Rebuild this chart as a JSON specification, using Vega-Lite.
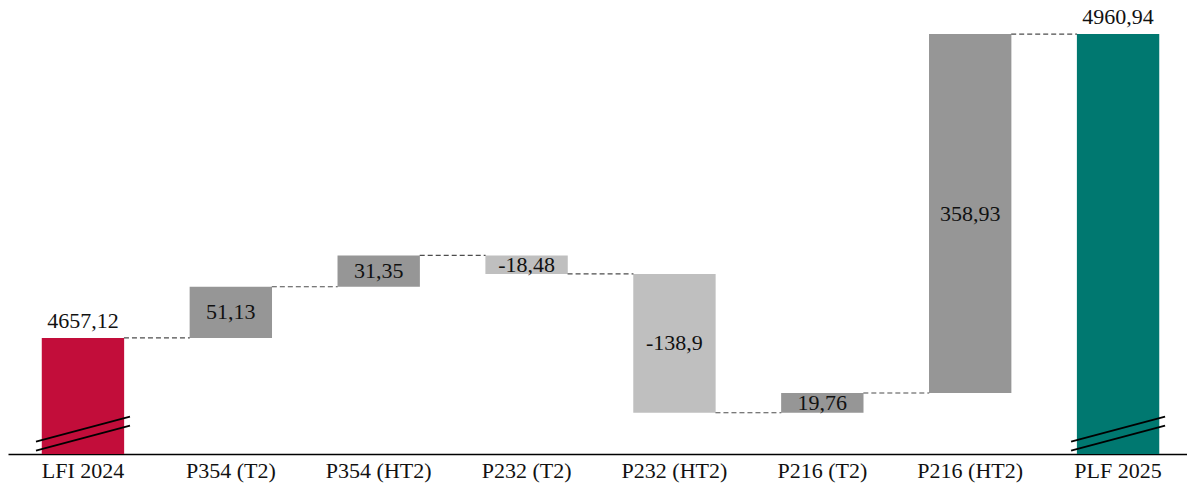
{
  "$schema": "https://vega.github.io/schema/vega-lite/v6.json",
  "width": 1179,
  "height": 444,
  "autosize": {"type": "none"},
  "padding": {"left": 8, "top": 10, "right": 0, "bottom": 32},
  "config": {
    "view": {"stroke": null},
    "font": "Liberation Serif",
    "text": {"font": "Liberation Serif"},
    "locale": {"number": {"decimal": ",", "thousands": ".", "grouping": [3], "currency": ["", ""], "minus": "-"}}
  },
  "data": {
    "values": [
      {"step": "LFI 2024", "kind": "start", "amount": 4657.12},
      {"step": "P354 (T2)", "kind": "up", "amount": 51.13},
      {"step": "P354 (HT2)", "kind": "up", "amount": 31.35},
      {"step": "P232 (T2)", "kind": "down", "amount": -18.48},
      {"step": "P232 (HT2)", "kind": "down", "amount": -138.9},
      {"step": "P216 (T2)", "kind": "up", "amount": 19.76},
      {"step": "P216 (HT2)", "kind": "up", "amount": 358.93},
      {"step": "PLF 2025", "kind": "end", "amount": 4960.94}
    ]
  },
  "transform": [
    {"calculate": "datum.kind === 'end' ? 0 : datum.amount", "as": "contrib"},
    {"window": [{"op": "sum", "field": "contrib", "as": "total"}, {"op": "lead", "field": "step", "as": "next"}], "frame": [null, 0]},
    {"calculate": "datum.total - datum.contrib", "as": "base"},
    {"calculate": "(datum.total + datum.base) / 2", "as": "mid"}
  ],
  "encoding": {
    "x": {
      "field": "step",
      "type": "nominal",
      "scale": {
        "domain": ["LFI 2024", "P354 (T2)", "P354 (HT2)", "P232 (T2)", "P232 (HT2)", "P216 (T2)", "P216 (HT2)", "PLF 2025"],
        "paddingInner": 0.443,
        "paddingOuter": 0.208,
        "align": 0.549
      },
      "axis": {
        "title": null,
        "labelAngle": 0,
        "ticks": false,
        "domainColor": "#000000",
        "domainWidth": 1.5,
        "labelFont": "Liberation Serif",
        "labelFontSize": 22,
        "labelColor": "#111111",
        "labelPadding": 6
      }
    }
  },
  "layer": [
    {
      "transform": [{"filter": "datum.kind === 'start' || datum.kind === 'end'"}],
      "mark": {"type": "bar", "clip": true},
      "encoding": {
        "y": {"field": "amount", "type": "quantitative", "scale": {"domain": [4541, 4985], "zero": false, "nice": false}, "axis": null},
        "color": {"field": "kind", "type": "nominal", "scale": {"domain": ["start", "end", "up", "down"], "range": ["#C20D3A", "#007870", "#969696", "#BFBFBF"]}, "legend": null}
      }
    },
    {
      "transform": [{"filter": "datum.kind === 'up' || datum.kind === 'down'"}],
      "mark": {"type": "bar"},
      "encoding": {
        "y": {"field": "base", "type": "quantitative"},
        "y2": {"field": "total"},
        "color": {"field": "kind", "type": "nominal"}
      }
    },
    {
      "transform": [{"filter": "datum.next != null"}],
      "mark": {"type": "rule", "strokeDash": [5, 3], "color": "#4d4d4d", "strokeWidth": 1.1, "xOffset": 41, "x2Offset": -41},
      "encoding": {
        "x2": {"field": "next"},
        "y": {"field": "total", "type": "quantitative"}
      }
    },
    {
      "transform": [{"filter": "datum.kind === 'start' || datum.kind === 'end'"}],
      "mark": {"type": "rule", "color": "#000000", "strokeWidth": 1.8, "xOffset": -47, "x2Offset": 47},
      "encoding": {
        "x2": {"field": "step"},
        "y": {"datum": 4553.3},
        "y2": {"datum": 4578.3}
      }
    },
    {
      "transform": [{"filter": "datum.kind === 'start' || datum.kind === 'end'"}],
      "mark": {"type": "rule", "color": "#000000", "strokeWidth": 1.8, "xOffset": -47, "x2Offset": 47},
      "encoding": {
        "x2": {"field": "step"},
        "y": {"datum": 4544.3},
        "y2": {"datum": 4569.3}
      }
    },
    {
      "transform": [{"filter": "datum.kind === 'start' || datum.kind === 'end'"}],
      "mark": {"type": "text", "font": "Liberation Serif", "baseline": "alphabetic", "dy": -10, "fontSize": 22, "color": "#111111"},
      "encoding": {
        "y": {"field": "amount", "type": "quantitative"},
        "text": {"field": "amount", "type": "quantitative", "format": ".2~f"}
      }
    },
    {
      "transform": [{"filter": "datum.kind === 'up' || datum.kind === 'down'"}],
      "mark": {"type": "text", "font": "Liberation Serif", "baseline": "middle", "fontSize": 22, "color": "#111111"},
      "encoding": {
        "y": {"field": "mid", "type": "quantitative"},
        "text": {"field": "amount", "type": "quantitative", "format": ".2~f"}
      }
    }
  ]
}
